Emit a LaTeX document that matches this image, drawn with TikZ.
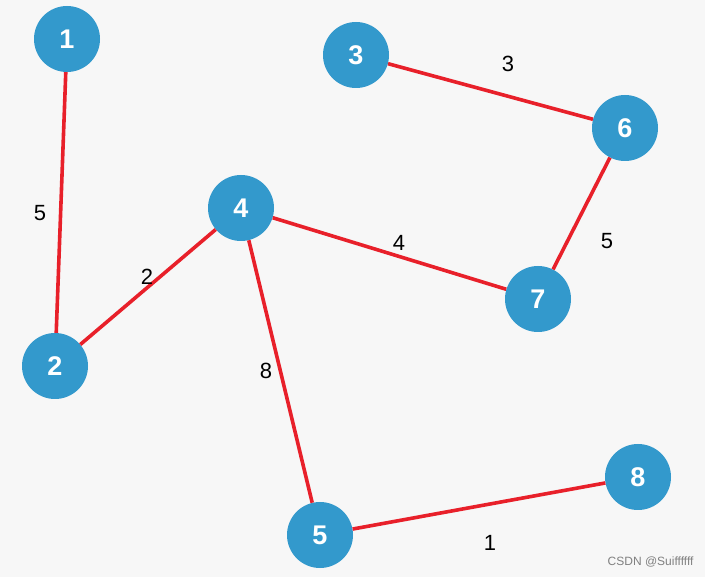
\documentclass[tikz,border=0pt]{standalone}
\usepackage{fontspec}
\setmainfont{Liberation Sans}
\definecolor{bg}{HTML}{F7F7F7}
\definecolor{nodeblue}{HTML}{3399CC}
\definecolor{edgered}{HTML}{E8202A}
\begin{document}
\begin{tikzpicture}[x=1pt,y=-1pt,
  vert/.style={circle,fill=nodeblue,minimum size=66pt,inner sep=0pt,text=white,font=\fontsize{27}{30}\selectfont\bfseries},
  edge/.style={draw=edgered,line width=3.6pt},
  wt/.style={font=\fontsize{22}{26}\selectfont,text=black}]
\fill[bg] (0,0) rectangle (705,577);
\useasboundingbox (0,0) rectangle (705,577);
\node[vert] (n1) at (67,39) {1};
\node[vert] (n3) at (356,55) {3};
\node[vert] (n6) at (625,128) {6};
\node[vert] (n4) at (241,208) {4};
\node[vert] (n7) at (538,299) {7};
\node[vert] (n2) at (55,366) {2};
\node[vert] (n8) at (638,477) {8};
\node[vert] (n5) at (320,535) {5};
\draw[edge] (n1) -- (n2);
\draw[edge] (n3) -- (n6);
\draw[edge] (n6) -- (n7);
\draw[edge] (n4) -- (n7);
\draw[edge] (n2) -- (n4);
\draw[edge] (n4) -- (n5);
\draw[edge] (n5) -- (n8);
\node[wt] (w12) at (40,213) {5};
\node[wt] (w36) at (508,64) {3};
\node[wt] (w24) at (147,277) {2};
\node[wt] (w47) at (399,243) {4};
\node[wt] (w67) at (607,241) {5};
\node[wt] (w45) at (266,371) {8};
\node[wt] (w58) at (490,543) {1};
\node[font=\fontsize{12}{14}\selectfont,text=gray,anchor=east] (wm) at (697,562) {CSDN @Suiffffff};
\end{tikzpicture}
\end{document}
